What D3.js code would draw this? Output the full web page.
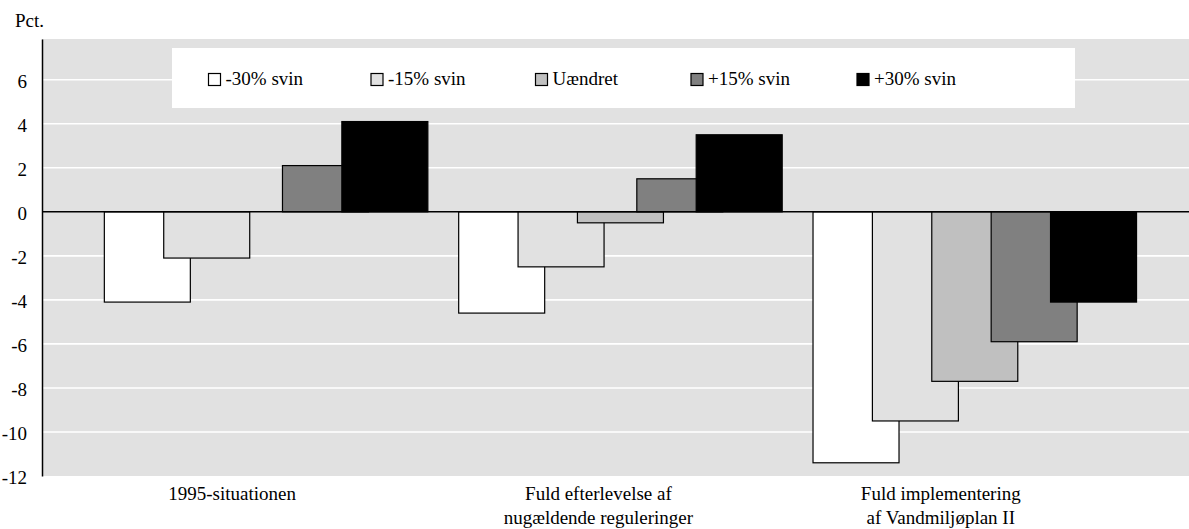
<!DOCTYPE html>
<html>
<head>
<meta charset="utf-8">
<script src="https://cdn.jsdelivr.net/npm/d3@7"></script>
<style>
  body { margin: 0; background: #ffffff; }
  text { font-family: "Liberation Serif", "Times New Roman", serif; fill: #000; }
</style>
</head>
<body>
<svg id="chart" width="1189" height="529"></svg>
<script>
// Scenario categories (multi-line axis labels)
const categories = [
  ["1995-situationen"],
  ["Fuld efterlevelse af", "nugældende reguleringer"],
  ["Fuld implementering", "af Vandmiljøplan II"]
];
const seriesNames = ["-30% svin", "-15% svin", "Uændret", "+15% svin", "+30% svin"];
const seriesColors = ["#ffffff", "#e1e1e1", "#c0c0c0", "#808080", "#000000"];

// Change in percent per scenario
const minus30 = [-4.1, -4.6, -11.4];
const minus15 = [-2.1, -2.5, -9.5];
const unchanged = [0, -0.5, -7.7];
const plus15 = [2.1, 1.5, -5.9];
const plus30 = [4.1, 3.5, -4.1];
const seriesValues = [minus30, minus15, unchanged, plus15, plus30];

const yTicks = [-12, -10, -8, -6, -4, -2, 0, 2, 4, 6];

// Layout
const plot = { left: 42, top: 39, right: 1189, bottom: 476 };
const barW = 86;
const fontSize = "19px";
const labelShift = [-34, -22, -34];
const legendBox = { x: 172, y: 48, w: 903, h: 60 };
const legendX = [208.5, 371, 535.5, 691, 857];

const svg = d3.select("#chart");

const y = d3.scaleLinear().domain([-12, 7.85]).range([plot.bottom, plot.top]);
const x = d3.scaleBand()
  .domain(d3.range(categories.length))
  .range([plot.left, plot.right])
  .paddingInner(0.087)
  .paddingOuter(0.162)
  .align(0.543);
const xInner = d3.scalePoint()
  .domain(seriesNames)
  .range([0, x.bandwidth() - barW]);

// Plot background
svg.append("rect")
  .attr("x", plot.left).attr("y", plot.top)
  .attr("width", plot.right - plot.left).attr("height", plot.bottom - plot.top)
  .attr("fill", "#e1e1e1");

// Horizontal gridlines
svg.append("g")
  .selectAll("line")
  .data(yTicks.filter(t => t !== 0 && t !== -12))
  .join("line")
  .attr("x1", plot.left).attr("x2", plot.right)
  .attr("y1", d => y(d)).attr("y2", d => y(d))
  .attr("stroke", "#ffffff").attr("stroke-width", 1.6);

// Legend box
svg.append("rect")
  .attr("x", legendBox.x).attr("y", legendBox.y)
  .attr("width", legendBox.w).attr("height", legendBox.h)
  .attr("fill", "#ffffff");

const legend = svg.append("g")
  .selectAll("g")
  .data(seriesNames)
  .join("g")
  .attr("transform", (d, i) => `translate(${legendX[i]},${legendBox.y + 25.5})`);
legend.append("rect")
  .attr("width", 12).attr("height", 12)
  .attr("fill", (d, i) => seriesColors[i])
  .attr("stroke", "#000").attr("stroke-width", 1.2);
legend.append("text")
  .attr("x", 17).attr("y", 11)
  .style("font-size", fontSize)
  .text(d => d);

// Bars, drawn series by series within each scenario so later bars overlap earlier ones
const barData = [];
categories.forEach((c, ci) => {
  seriesNames.forEach((s, si) => {
    barData.push({ ci, si, value: seriesValues[si][ci] });
  });
});

svg.append("g")
  .selectAll("rect")
  .data(barData.filter(d => d.value !== 0))
  .join("rect")
  .attr("x", d => x(d.ci) + xInner(seriesNames[d.si]))
  .attr("y", d => y(Math.max(0, d.value)))
  .attr("width", barW)
  .attr("height", d => Math.abs(y(d.value) - y(0)))
  .attr("fill", d => seriesColors[d.si])
  .attr("stroke", "#000")
  .attr("stroke-width", 1.2);

// Zero line
svg.append("line")
  .attr("x1", plot.left).attr("x2", plot.right)
  .attr("y1", y(0)).attr("y2", y(0))
  .attr("stroke", "#000").attr("stroke-width", 1.6);

// Y axis
const yAxis = svg.append("g")
  .attr("transform", `translate(${plot.left},0)`)
  .call(d3.axisLeft(y).tickValues(yTicks).tickSize(0).tickPadding(15).tickFormat(d3.format("d")));
yAxis.select(".domain").attr("stroke", "#000").attr("stroke-width", 1.5);
yAxis.selectAll(".tick text")
  .style("font-size", fontSize)
  .style("font-family", "'Liberation Serif', serif")
  .attr("dy", "0.4em");
yAxis.selectAll(".tick text").text(d => d < 0 ? "-" + Math.abs(d) : d);

// Unit label
svg.append("text")
  .attr("x", 15).attr("y", 27)
  .style("font-size", fontSize)
  .text("Pct.");

// Category labels
const catLabels = svg.append("g")
  .selectAll("text")
  .data(categories)
  .join("text")
  .attr("text-anchor", "middle")
  .attr("x", (d, i) => x(i) + x.bandwidth() / 2 + labelShift[i])
  .attr("y", 500)
  .style("font-size", fontSize);
catLabels.selectAll("tspan")
  .data(d => d)
  .join("tspan")
  .attr("x", function () { return d3.select(this.parentNode).attr("x"); })
  .attr("dy", (d, i) => i === 0 ? 0 : 24)
  .text(d => d);
</script>
</body>
</html>
